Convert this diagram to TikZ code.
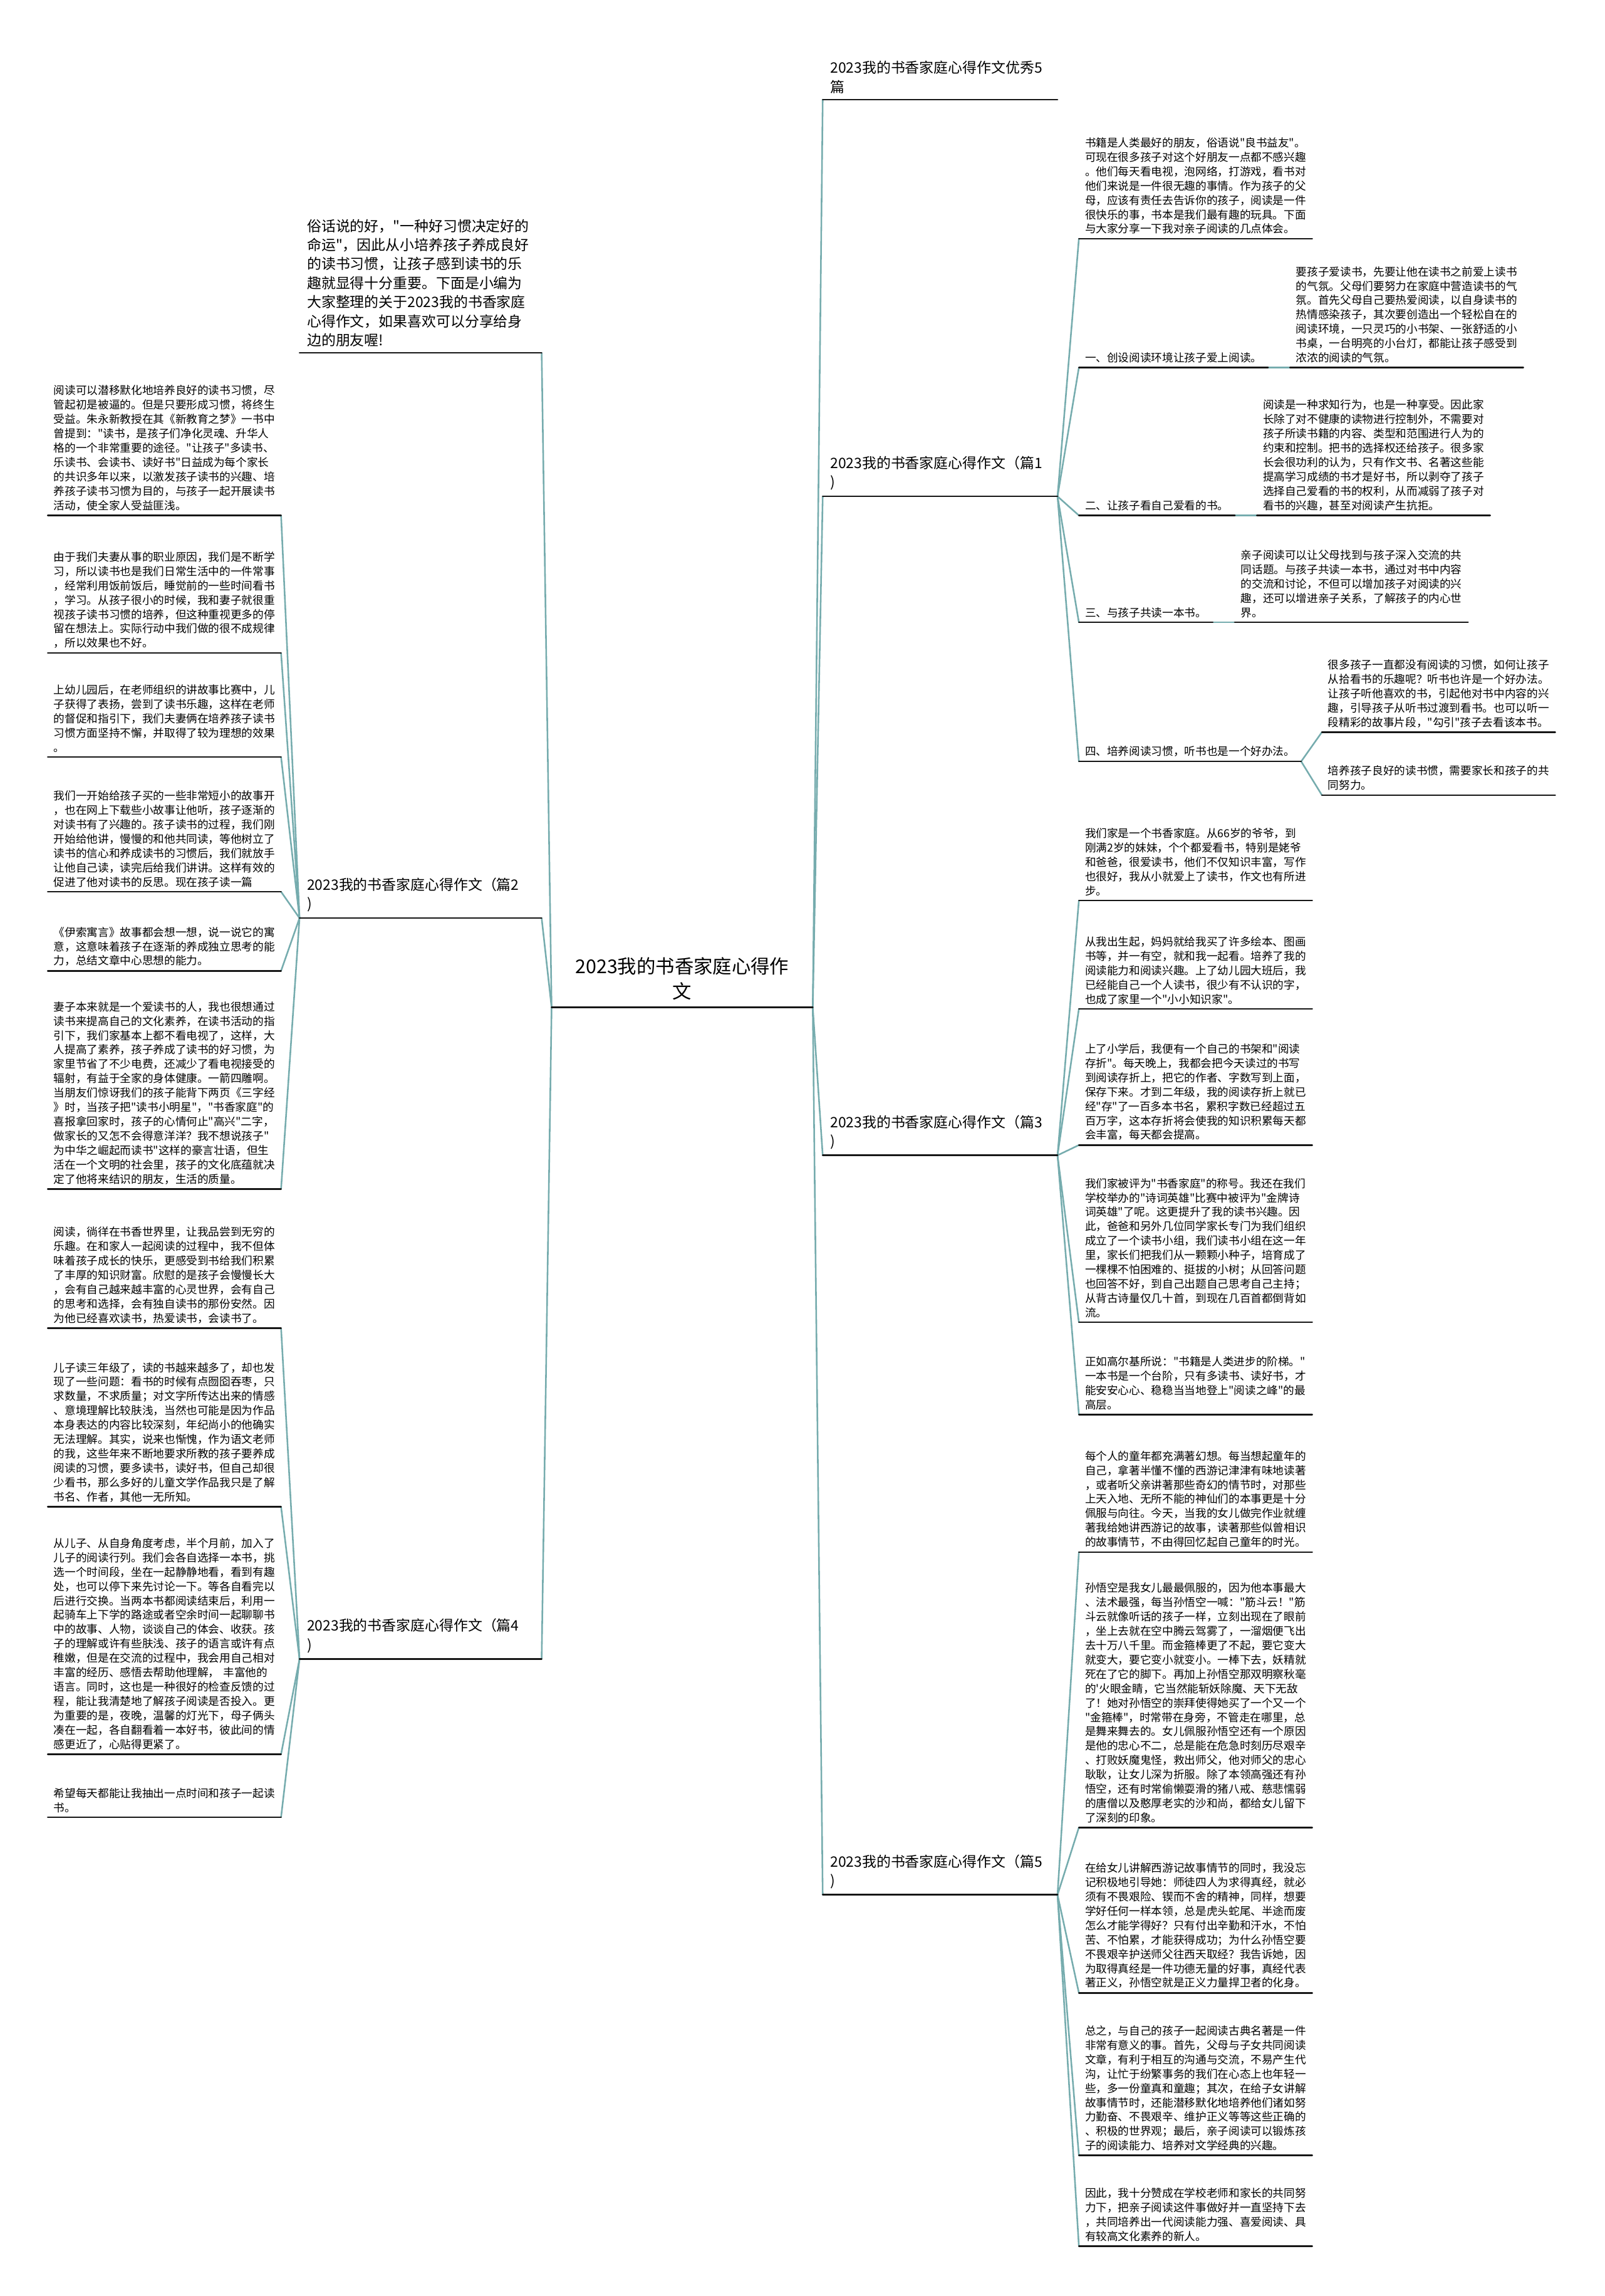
\documentclass[tikz,border=0pt]{standalone}
\usepackage{fontspec}
\newfontfamily\cjkfont{Noto Sans CJK SC}
\usetikzlibrary{positioning}
\definecolor{mapteal}{RGB}{118,172,174}
\definecolor{mapink}{RGB}{22,22,22}
\tikzset{
  every picture/.style={line cap=round,line join=round},
  rootnode/.style={font=\cjkfont\fontsize{13}{17}\selectfont,text width=150pt,
    align=center,inner xsep=14pt,inner ysep=5pt},
  branch/.style={font=\cjkfont\fontsize{9.8}{13}\selectfont,text width=150pt,
    align=left,inner xsep=5pt,inner ysep=4pt},
  leaf/.style={font=\cjkfont\fontsize{7.55}{9.8}\selectfont,text width=151pt,
    align=left,inner xsep=4pt,inner ysep=3pt},
  tag/.style={font=\cjkfont\fontsize{7.55}{9.8}\selectfont,inner xsep=4pt,
    inner ysep=3pt},
  uline/.style={line width=1.1pt,draw=mapink},
  link/.style={line width=1.1pt,draw=mapteal}
}
\begin{document}
\begin{tikzpicture}[x=1pt,y=-1pt]
  \useasboundingbox (0,0) rectangle (1096,1568);

  % The root and the first level of branches.
  \node[rootnode,anchor=south] (root) at (466,688) {2023我的书香家庭心得作\\文};
  \node[branch,anchor=south west] (t0) at (562,68) {2023我的书香家庭心得作文优秀5\\篇};
  \node[branch,anchor=south west] (p1) at (562,339) {2023我的书香家庭心得作文（篇1\\)};
  \node[branch,anchor=south west] (p3) at (562,789) {2023我的书香家庭心得作文（篇3\\)};
  \node[branch,anchor=south west] (p5) at (562,1294) {2023我的书香家庭心得作文（篇5\\)};
  \node[branch,text width=155pt,anchor=south east] (intro) at (370,241)
    {俗话说的好，"一种好习惯决定好的\\命运"，因此从小培养孩子养成良好\\的读书习惯，让孩子感到读书的乐\\趣就显得十分重要。下面是小编为\\大家整理的关于2023我的书香家庭\\心得作文，如果喜欢可以分享给身\\边的朋友喔!};
  \node[branch,text width=155pt,anchor=south east] (p2) at (370,627) {2023我的书香家庭心得作文（篇2\\)};
  \node[branch,text width=155pt,anchor=south east] (p4) at (370,1133) {2023我的书香家庭心得作文（篇4\\)};

  % Essay 1: opening and the four points.
  \node[leaf,anchor=south west] (a1) at (737,163)
    {书籍是人类最好的朋友，俗语说"良书益友"。\\可现在很多孩子对这个好朋友一点都不感兴趣\\。他们每天看电视，泡网络，打游戏，看书对\\他们来说是一件很无趣的事情。作为孩子的父\\母，应该有责任去告诉你的孩子，阅读是一件\\很快乐的事，书本是我们最有趣的玩具。下面\\与大家分享一下我对亲子阅读的几点体会。};
  \node[tag,anchor=south west] (a2) at (737,251) {一、创设阅读环境让孩子爱上阅读。};
  \node[leaf,right=15pt of a2.south east,anchor=south west] (a2x)
    {要孩子爱读书，先要让他在读书之前爱上读书\\的气氛。父母们要努力在家庭中营造读书的气\\氛。首先父母自己要热爱阅读，以自身读书的\\热情感染孩子，其次要创造出一个轻松自在的\\阅读环境，一只灵巧的小书架、一张舒适的小\\书桌，一台明亮的小台灯，都能让孩子感受到\\浓浓的阅读的气氛。};
  \node[tag,anchor=south west] (a3) at (737,352) {二、让孩子看自己爱看的书。};
  \node[leaf,right=15pt of a3.south east,anchor=south west] (a3x)
    {阅读是一种求知行为，也是一种享受。因此家\\长除了对不健康的读物进行控制外，不需要对\\孩子所读书籍的内容、类型和范围进行人为的\\约束和控制。把书的选择权还给孩子。很多家\\长会很功利的认为，只有作文书、名著这些能\\提高学习成绩的书才是好书，所以剥夺了孩子\\选择自己爱看的书的权利，从而减弱了孩子对\\看书的兴趣，甚至对阅读产生抗拒。};
  \node[tag,anchor=south west] (a4) at (737,425) {三、与孩子共读一本书。};
  \node[leaf,right=15pt of a4.south east,anchor=south west] (a4x)
    {亲子阅读可以让父母找到与孩子深入交流的共\\同话题。与孩子共读一本书，通过对书中内容\\的交流和讨论，不但可以增加孩子对阅读的兴\\趣，还可以增进亲子关系，了解孩子的内心世\\界。};
  \node[tag,anchor=south west] (a5) at (737,520) {四、培养阅读习惯，听书也是一个好办法。};
  \node[leaf,anchor=south west] (a5x) at (903,500)
    {很多孩子一直都没有阅读的习惯，如何让孩子\\从拾看书的乐趣呢？听书也许是一个好办法。\\让孩子听他喜欢的书，引起他对书中内容的兴\\趣，引导孩子从听书过渡到看书。也可以听一\\段精彩的故事片段，"勾引"孩子去看该本书。};
  \node[leaf,anchor=south west] (a5y) at (903,543)
    {培养孩子良好的读书惯，需要家长和孩子的共\\同努力。};

  % Essay 3.
  \node[leaf,anchor=south west] (b1) at (737,615)
    {我们家是一个书香家庭。从66岁的爷爷，到\\刚满2岁的妹妹，个个都爱看书，特别是姥爷\\和爸爸，很爱读书，他们不仅知识丰富，写作\\也很好，我从小就爱上了读书，作文也有所进\\步。};
  \node[leaf,anchor=south west] (b2) at (737,689)
    {从我出生起，妈妈就给我买了许多绘本、图画\\书等，并一有空，就和我一起看。培养了我的\\阅读能力和阅读兴趣。上了幼儿园大班后，我\\已经能自己一个人读书，很少有不认识的字，\\也成了家里一个"小小知识家"。};
  \node[leaf,anchor=south west] (b3) at (737,782)
    {上了小学后，我便有一个自己的书架和"阅读\\存折"。每天晚上，我都会把今天读过的书写\\到阅读存折上，把它的作者、字数写到上面，\\保存下来。才到二年级，我的阅读存折上就已\\经"存"了一百多本书名，累积字数已经超过五\\百万字，这本存折将会使我的知识积累每天都\\会丰富，每天都会提高。};
  \node[leaf,anchor=south west] (b4) at (737,903)
    {我们家被评为"书香家庭"的称号。我还在我们\\学校举办的"诗词英雄"比赛中被评为"金牌诗\\词英雄"了呢。这更提升了我的读书兴趣。因\\此，爸爸和另外几位同学家长专门为我们组织\\成立了一个读书小组，我们读书小组在这一年\\里，家长们把我们从一颗颗小种子，培育成了\\一棵棵不怕困难的、挺拔的小树；从回答问题\\也回答不好，到自己出题自己思考自己主持；\\从背古诗量仅几十首，到现在几百首都倒背如\\流。};
  \node[leaf,anchor=south west] (b5) at (737,966)
    {正如高尔基所说："书籍是人类进步的阶梯。"\\一本书是一个台阶，只有多读书、读好书，才\\能安安心心、稳稳当当地登上"阅读之峰"的最\\高层。};

  % Essay 5.
  \node[leaf,anchor=south west] (d1) at (737,1060)
    {每个人的童年都充满著幻想。每当想起童年的\\自己，拿著半懂不懂的西游记津津有味地读著\\，或者听父亲讲著那些奇幻的情节时，对那些\\上天入地、无所不能的神仙们的本事更是十分\\佩服与向往。今天，当我的女儿做完作业就缠\\著我给她讲西游记的故事，读著那些似曾相识\\的故事情节，不由得回忆起自己童年的时光。};
  \node[leaf,anchor=south west] (d2) at (737,1248)
    {孙悟空是我女儿最最佩服的，因为他本事最大\\、法术最强，每当孙悟空一喊："筋斗云！"筋\\斗云就像听话的孩子一样，立刻出现在了眼前\\，坐上去就在空中腾云驾雾了，一溜烟便飞出\\去十万八千里。而金箍棒更了不起，要它变大\\就变大，要它变小就变小。一棒下去，妖精就\\死在了它的脚下。再加上孙悟空那双明察秋毫\\的'火眼金睛，它当然能斩妖除魔、天下无敌\\了！她对孙悟空的崇拜使得她买了一个又一个\\"金箍棒"，时常带在身旁，不管走在哪里，总\\是舞来舞去的。女儿佩服孙悟空还有一个原因\\是他的忠心不二，总是能在危急时刻历尽艰辛\\、打败妖魔鬼怪，救出师父，他对师父的忠心\\耿耿，让女儿深为折服。除了本领高强还有孙\\悟空，还有时常偷懒耍滑的猪八戒、慈悲懦弱\\的唐僧以及憨厚老实的沙和尚，都给女儿留下\\了深刻的印象。};
  \node[leaf,anchor=south west] (d3) at (737,1361)
    {在给女儿讲解西游记故事情节的同时，我没忘\\记积极地引导她：师徒四人为求得真经，就必\\须有不畏艰险、锲而不舍的精神，同样，想要\\学好任何一样本领，总是虎头蛇尾、半途而废\\怎么才能学得好？只有付出辛勤和汗水，不怕\\苦、不怕累，才能获得成功；为什么孙悟空要\\不畏艰辛护送师父往西天取经？我告诉她，因\\为取得真经是一件功德无量的好事，真经代表\\著正义，孙悟空就是正义力量捍卫者的化身。};
  \node[leaf,anchor=south west] (d4) at (737,1472)
    {总之，与自己的孩子一起阅读古典名著是一件\\非常有意义的事。首先，父母与子女共同阅读\\文章，有利于相互的沟通与交流，不易产生代\\沟，让忙于纷繁事务的我们在心态上也年轻一\\些，多一份童真和童趣；其次，在给子女讲解\\故事情节时，还能潜移默化地培养他们诸如努\\力勤奋、不畏艰辛、维护正义等等这些正确的\\、积极的世界观；最后，亲子阅读可以锻炼孩\\子的阅读能力、培养对文学经典的兴趣。};
  \node[leaf,anchor=south west] (d5) at (737,1534)
    {因此，我十分赞成在学校老师和家长的共同努\\力下，把亲子阅读这件事做好并一直坚持下去\\，共同培养出一代阅读能力强、喜爱阅读、具\\有较高文化素养的新人。};

  % Essay 2 (left side).
  \node[leaf,anchor=south east] (c1) at (192,352)
    {阅读可以潜移默化地培养良好的读书习惯，尽\\管起初是被逼的。但是只要形成习惯，将终生\\受益。朱永新教授在其《新教育之梦》一书中\\曾提到："读书，是孩子们净化灵魂、升华人\\格的一个非常重要的途径。"让孩子"多读书、\\乐读书、会读书、读好书"日益成为每个家长\\的共识多年以来，以激发孩子读书的兴趣、培\\养孩子读书习惯为目的，与孩子一起开展读书\\活动，使全家人受益匪浅。};
  \node[leaf,anchor=south east] (c2) at (192,446)
    {由于我们夫妻从事的职业原因，我们是不断学\\习，所以读书也是我们日常生活中的一件常事\\，经常利用饭前饭后，睡觉前的一些时间看书\\，学习。从孩子很小的时候，我和妻子就很重\\视孩子读书习惯的培养，但这种重视更多的停\\留在想法上。实际行动中我们做的很不成规律\\，所以效果也不好。};
  \node[leaf,anchor=south east] (c3) at (192,517)
    {上幼儿园后，在老师组织的讲故事比赛中，儿\\子获得了表扬，尝到了读书乐趣，这样在老师\\的督促和指引下，我们夫妻俩在培养孩子读书\\习惯方面坚持不懈，并取得了较为理想的效果\\。};
  \node[leaf,anchor=south east] (c4) at (192,609)
    {我们一开始给孩子买的一些非常短小的故事开\\，也在网上下载些小故事让他听，孩子逐渐的\\对读书有了兴趣的。孩子读书的过程，我们刚\\开始给他讲，慢慢的和他共同读，等他树立了\\读书的信心和养成读书的习惯后，我们就放手\\让他自己读，读完后给我们讲讲。这样有效的\\促进了他对读书的反思。现在孩子读一篇};
  \node[leaf,anchor=south east] (c5) at (192,663)
    {《伊索寓言》故事都会想一想，说一说它的寓\\意，这意味着孩子在逐渐的养成独立思考的能\\力，总结文章中心思想的能力。};
  \node[leaf,anchor=south east] (c6) at (192,812)
    {妻子本来就是一个爱读书的人，我也很想通过\\读书来提高自己的文化素养，在读书活动的指\\引下，我们家基本上都不看电视了，这样，大\\人提高了素养，孩子养成了读书的好习惯，为\\家里节省了不少电费，还减少了看电视接受的\\辐射，有益于全家的身体健康。一箭四雕啊。\\当朋友们惊讶我们的孩子能背下两页《三字经\\》时，当孩子把"读书小明星"，"书香家庭"的\\喜报拿回家时，孩子的心情何止"高兴"二字，\\做家长的又怎不会得意洋洋？我不想说孩子"\\为中华之崛起而读书"这样的豪言壮语，但生\\活在一个文明的社会里，孩子的文化底蕴就决\\定了他将来结识的朋友，生活的质量。};

  % Essay 4 (left side).
  \node[leaf,anchor=south east] (e1) at (192,907)
    {阅读，徜徉在书香世界里，让我品尝到无穷的\\乐趣。在和家人一起阅读的过程中，我不但体\\味着孩子成长的快乐，更感受到书给我们积累\\了丰厚的知识财富。欣慰的是孩子会慢慢长大\\，会有自己越来越丰富的心灵世界，会有自己\\的思考和选择，会有独自读书的那份安然。因\\为他已经喜欢读书，热爱读书，会读书了。};
  \node[leaf,anchor=south east] (e2) at (192,1029)
    {儿子读三年级了，读的书越来越多了，却也发\\现了一些问题：看书的时候有点囫囵吞枣，只\\求数量，不求质量；对文字所传达出来的情感\\、意境理解比较肤浅，当然也可能是因为作品\\本身表达的内容比较深刻，年纪尚小的他确实\\无法理解。其实，说来也惭愧，作为语文老师\\的我，这些年来不断地要求所教的孩子要养成\\阅读的习惯，要多读书，读好书，但自己却很\\少看书，那么多好的儿童文学作品我只是了解\\书名、作者，其他一无所知。};
  \node[leaf,anchor=south east] (e3) at (192,1198)
    {从儿子、从自身角度考虑，半个月前，加入了\\儿子的阅读行列。我们会各自选择一本书，挑\\选一个时间段，坐在一起静静地看，看到有趣\\处，也可以停下来先讨论一下。等各自看完以\\后进行交换。当两本书都阅读结束后，利用一\\起骑车上下学的路途或者空余时间一起聊聊书\\中的故事、人物，谈谈自己的体会、收获。孩\\子的理解或许有些肤浅、孩子的语言或许有点\\稚嫩，但是在交流的过程中，我会用自己相对\\丰富的经历、感悟去帮助他理解， 丰富他的\\语言。同时，这也是一种很好的检查反馈的过\\程，能让我清楚地了解孩子阅读是否投入。更\\为重要的是，夜晚，温馨的灯光下，母子俩头\\凑在一起，各自翻看着一本好书，彼此间的情\\感更近了，心贴得更紧了。};
  \node[leaf,anchor=south east] (e4) at (192,1241)
    {希望每天都能让我抽出一点时间和孩子一起读\\书。};

  % Teal connectors, underline end to underline end.
  \foreach \c in {t0,p1,p3,p5} \draw[link] (root.south east) -- (\c.south west);
  \foreach \c in {intro,p2,p4} \draw[link] (root.south west) -- (\c.south east);
  \foreach \c in {a1,a2,a3,a4,a5} \draw[link] (p1.south east) -- (\c.south west);
  \foreach \c/\d in {a2/a2x,a3/a3x,a4/a4x,a5/a5x,a5/a5y}
    \draw[link] (\c.south east) -- (\d.south west);
  \foreach \i in {1,...,5} {
    \draw[link] (p3.south east) -- (b\i.south west);
    \draw[link] (p5.south east) -- (d\i.south west);
  }
  \foreach \i in {1,...,6} \draw[link] (p2.south west) -- (c\i.south east);
  \foreach \i in {1,...,4} \draw[link] (p4.south west) -- (e\i.south east);

  % Black rule under every topic.
  \foreach \n in {root,t0,p1,p3,p5,intro,p2,p4,a1,a2,a2x,a3,a3x,a4,a4x,a5,a5x,a5y,
                  b1,b2,b3,b4,b5,d1,d2,d3,d4,d5,c1,c2,c3,c4,c5,c6,e1,e2,e3,e4}
    \draw[uline] (\n.south west) -- (\n.south east);
\end{tikzpicture}
\end{document}
